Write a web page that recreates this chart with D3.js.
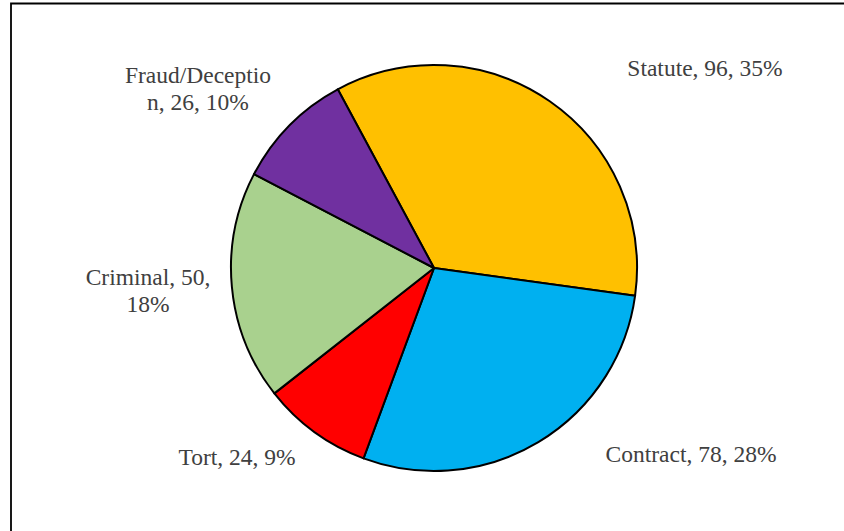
<!DOCTYPE html>
<html>
<head>
<meta charset="utf-8">
<script src="https://cdn.jsdelivr.net/npm/d3@7"></script>
<style>
    body { margin: 0; background: #fff; }
    svg { display: block; }
    .slice { stroke: #000; stroke-width: 2; }
    .label { font-family: "Liberation Serif", "Times New Roman", serif; font-size: 23.5px; fill: #404040; }
</style>
</head>
<body>
<div id="chart"></div>
<script>
// Case counts by category
const categories = ['Statute', 'Contract', 'Tort', 'Criminal', 'Fraud/Deception'];
const counts = [96, 78, 24, 50, 26];
const percentLabels = ['35%', '28%', '9%', '18%', '10%'];

// Label text lines as wrapped in the original
const labelLines = [
    ['Statute, 96, 35%'],
    ['Contract, 78, 28%'],
    ['Tort, 24, 9%'],
    ['Criminal, 50,', '18%'],
    ['Fraud/Deceptio', 'n, 26, 10%']
];

const colors = ['#FFC000', '#00B0F0', '#FF0000', '#A9D18E', '#7030A0'];

// Layout
const width = 844, height = 531;
const cx = 434, cy = 268, radius = 203;
const startDeg = -28.3;
// label anchor (middle, first baseline) relative to pie center
const labelOffsets = [[271, -192], [257, 194], [-197, 197], [-286, 17], [-236, -185]];
const lineHeight = 27;

const svg = d3.select('#chart')
    .append('svg')
    .attr('width', width)
    .attr('height', height);

// chart frame
svg.append('path')
    .attr('d', `M11,${height + 2}V3.5H${width + 2}`)
    .attr('fill', 'none')
    .attr('stroke', '#000')
    .attr('stroke-width', 1.8);

const data = categories.map((c, i) => ({ name: c, value: counts[i], pct: percentLabels[i], i }));

const start = startDeg * Math.PI / 180;
const pie = d3.pie()
    .value(d => d.value)
    .sort(null)
    .startAngle(start)
    .endAngle(start + 2 * Math.PI);

const arc = d3.arc().innerRadius(0).outerRadius(radius);

const g = svg.append('g').attr('transform', `translate(${cx},${cy})`);

g.selectAll('.slice')
    .data(pie(data))
    .enter()
    .append('path')
    .attr('class', 'slice')
    .attr('d', arc)
    .attr('fill', d => colors[d.data.i])
    .attr('stroke-linejoin', 'round');

const labels = g.selectAll('.label')
    .data(data)
    .enter()
    .append('text')
    .attr('class', 'label')
    .attr('text-anchor', 'middle')
    .attr('transform', d => `translate(${labelOffsets[d.i][0]},${labelOffsets[d.i][1]})`);

labels.each(function(d) {
    const t = d3.select(this);
    labelLines[d.i].forEach((line, k) => {
        t.append('tspan')
            .attr('x', 0)
            .attr('y', k * lineHeight)
            .text(line);
    });
});
</script>
</body>
</html>
